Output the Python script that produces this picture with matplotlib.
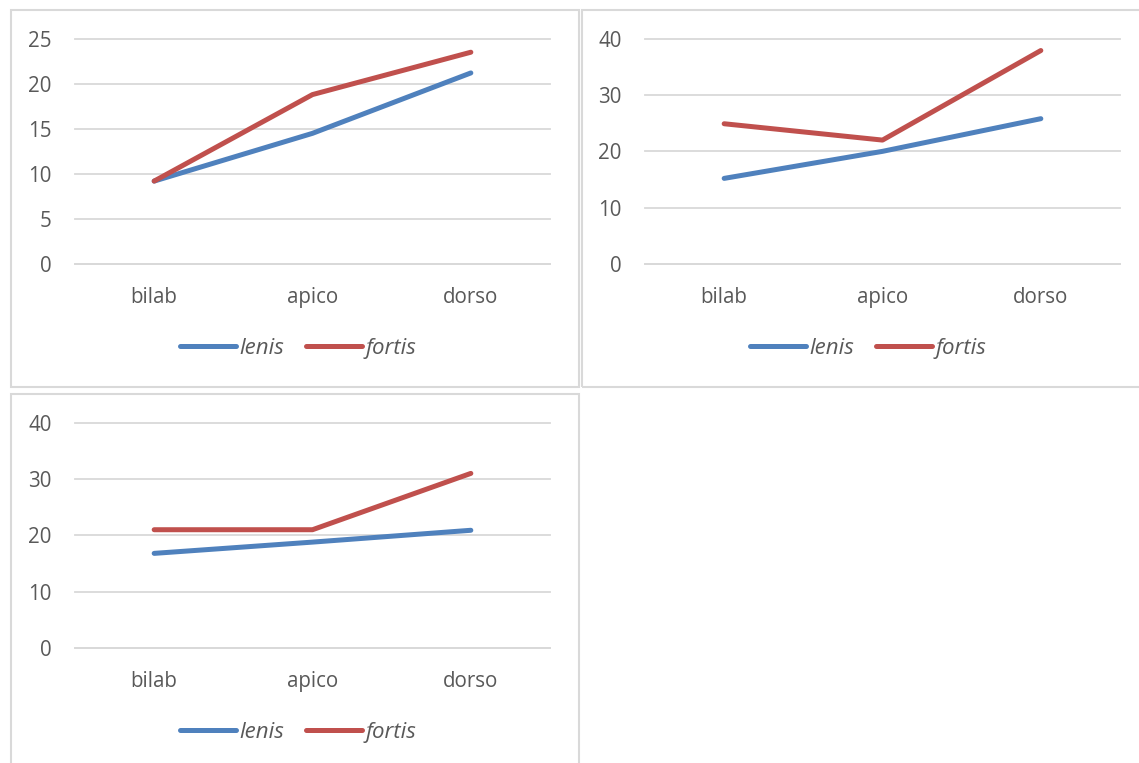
import matplotlib.pyplot as plt
from matplotlib.patches import Rectangle

# data
categories = ["bilab", "apico", "dorso"]
series_names = ["lenis", "fortis"]

p1_lenis = [9.2, 14.5, 21.2]
p1_fortis = [9.2, 18.8, 23.5]
p2_lenis = [15.2, 20.0, 25.8]
p2_fortis = [24.9, 22.0, 37.9]
p3_lenis = [16.8, 18.8, 20.9]
p3_fortis = [21.0, 21.0, 31.0]

p1_yticks = [0, 5, 10, 15, 20, 25]
p23_yticks = [0, 10, 20, 30, 40]

W, H = 1139, 763
BLUE = "#4F81BD"
RED = "#C0504D"
GRID = "#d9d9d9"
TEXT = "#595959"
FONT = "Open Sans"

plt.rcParams["font.family"] = [FONT, "DejaVu Sans"]


def px_rect(x0, y0, x1, y1):
    """Pixel box (top-left origin) -> figure fraction [l, b, w, h]."""
    return [x0 / W, 1 - y1 / H, (x1 - x0) / W, (y1 - y0) / H]


def draw_panel(fig, box, frame, lenis, fortis, yticks):
    # chart border like the Excel chart area
    fl, fb, fw, fh = px_rect(*frame)
    fig.add_artist(Rectangle((fl, fb), fw, fh, transform=fig.transFigure,
                             fill=False, edgecolor=GRID, linewidth=1.5))

    ax = fig.add_axes(px_rect(*box))
    x = [i + 0.5 for i in range(len(categories))]
    ax.plot(x, lenis, color=BLUE, lw=3.6, solid_capstyle="round",
            solid_joinstyle="round", label=series_names[0], zorder=3)
    ax.plot(x, fortis, color=RED, lw=3.6, solid_capstyle="round",
            solid_joinstyle="round", label=series_names[1], zorder=3)

    ax.set_xlim(0, len(categories))
    ax.set_ylim(yticks[0], yticks[-1])
    ax.set_xticks(x)
    ax.set_xticklabels(categories)
    ax.set_yticks(yticks)

    for s in ["top", "right", "left"]:
        ax.spines[s].set_visible(False)
    ax.spines["bottom"].set_color(GRID)
    ax.spines["bottom"].set_linewidth(1.3)
    ax.grid(axis="y", color=GRID, lw=1.3)
    ax.set_axisbelow(True)
    for gl in ax.get_ygridlines():
        gl.set_clip_on(False)

    ax.tick_params(axis="both", length=0, labelsize=14.8, colors=TEXT)
    ax.tick_params(axis="y", pad=17)
    ax.tick_params(axis="x", pad=16.5)

    leg = ax.legend(loc="center", bbox_to_anchor=(0.47, -0.373), ncol=2,
                    frameon=False, handlelength=2.5, handletextpad=0.15,
                    columnspacing=1.0, prop={"family": FONT, "style": "italic",
                                             "size": 16})
    for t in leg.get_texts():
        t.set_color(TEXT)
    return ax


fig = plt.figure(figsize=(W / 100, H / 100), dpi=100)

draw_panel(fig, (75, 38.7, 550, 264), (11, 10, 579, 387),
           p1_lenis, p1_fortis, p1_yticks)
draw_panel(fig, (645, 38.7, 1120, 264), (582, 10, 1150, 387),
           p2_lenis, p2_fortis, p23_yticks)
draw_panel(fig, (75, 422.7, 550, 648), (11, 394, 579, 775),
           p3_lenis, p3_fortis, p23_yticks)

fig.savefig("out.png", dpi=100)
